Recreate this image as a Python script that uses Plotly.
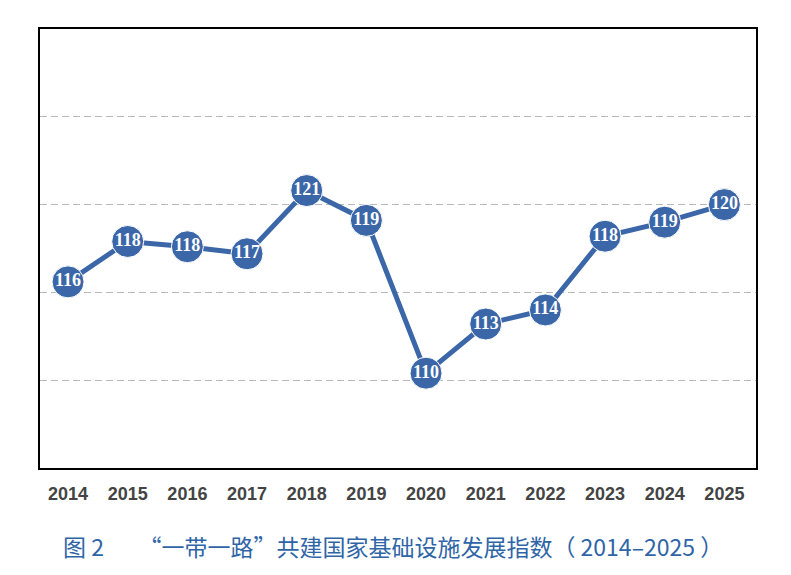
import plotly.graph_objects as go

years = ["2014", "2015", "2016", "2017", "2018", "2019", "2020", "2021", "2022", "2023", "2024", "2025"]
index_values = [115.6, 117.9, 117.6, 117.2, 120.8, 119.1, 110.4, 113.2, 114.0, 118.2, 119.0, 120.0]
value_labels = ["116", "118", "118", "117", "121", "119", "110", "113", "114", "118", "119", "120"]
y_gridlines = [110, 115, 120, 125]
caption = "图 2　　“一带一路”共建国家基础设施发展指数（ 2014–2025 ）"

xpos = list(range(len(years)))

# page body has an 8px margin; figure is sized to fill the 791x575 window exactly
W, H = 775, 559
L, T, R, B = 32, 21, 27, 99

fig = go.Figure()
fig.add_trace(go.Scatter(
    x=xpos, y=index_values,
    mode="lines+markers+text",
    line=dict(color="#3b67a9", width=5),
    marker=dict(size=32, color="#3b67a9", line=dict(color="#ffffff", width=1)),
    text=value_labels,
    textposition="middle center",
    textfont=dict(family="Liberation Serif", size=18, color="#ffffff", weight="bold"),
    cliponaxis=False,
    showlegend=False,
))

plot_h = H - T - B
plot_w = W - L - R

fig.update_layout(
    width=W, height=H,
    margin=dict(l=L, r=R, t=T, b=B),
    paper_bgcolor="#ffffff",
    plot_bgcolor="#ffffff",
    xaxis=dict(
        range=[-0.47, 11.53],
        tickvals=xpos, ticktext=years,
        showgrid=False, zeroline=False,
        showline=True, linecolor="#000000", linewidth=2, mirror=True,
        ticks="", ticklen=0,
        ticklabelstandoff=8,
        tickfont=dict(family="Liberation Sans", size=18, color="#444444", weight="bold"),
    ),
    yaxis=dict(
        range=[105, 130],
        tickvals=y_gridlines,
        showticklabels=False,
        showgrid=True, gridcolor="#b8b8b8", gridwidth=1, griddash="7px,4px",
        zeroline=False,
        showline=True, linecolor="#000000", linewidth=2, mirror=True,
        ticks="",
    ),
    annotations=[dict(
        text=caption,
        x=(393 - 8 - L) / plot_w, xref="paper", xanchor="center",
        y=(T + plot_h - (546 - 8)) / plot_h, yref="paper", yanchor="middle",
        showarrow=False,
        font=dict(family="Noto Sans CJK SC", size=23, color="#2f65a7"),
    )],
)

fig.write_html("out.html")
